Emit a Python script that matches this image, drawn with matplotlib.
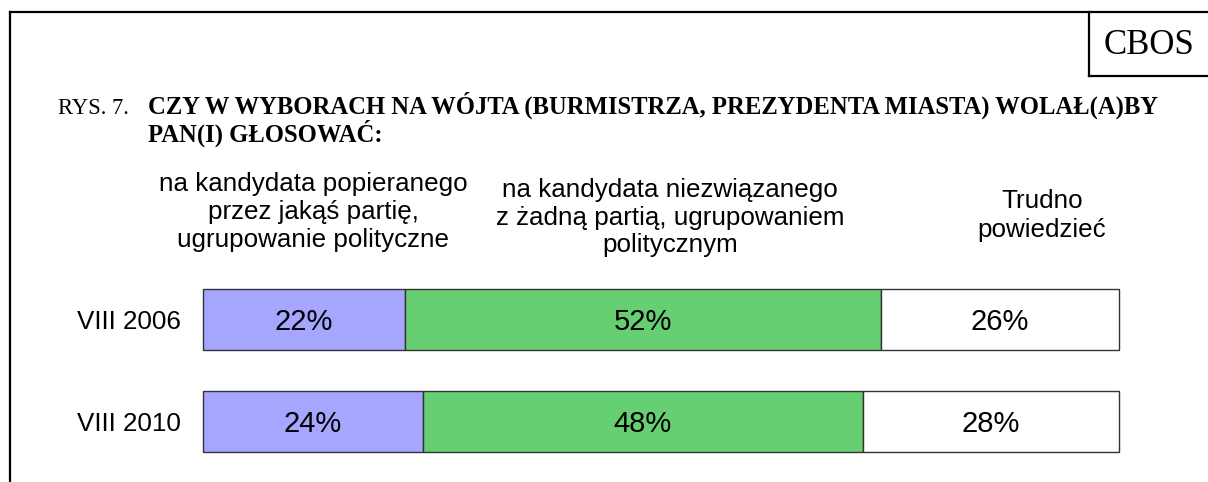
import matplotlib
matplotlib.use("Agg")
import matplotlib.pyplot as plt
from matplotlib.lines import Line2D
import numpy as np

# ---- data ----
periods = ["VIII 2006", "VIII 2010"]
cat_labels = [
    ["na kandydata popieranego", "przez jakąś partię,", "ugrupowanie polityczne"],
    ["na kandydata niezwiązanego", "z żadną partią, ugrupowaniem", "politycznym"],
    ["Trudno", "powiedzieć"],
]
val_party = [22, 24]
val_indep = [52, 48]
val_dk = [26, 28]
series = [val_party, val_indep, val_dk]
colors = ["#A6A6FF", "#66CF72", "#FFFFFF"]

title_prefix = "RYS. 7."
title_lines = ["CZY W WYBORACH NA WÓJTA (BURMISTRZA, PREZYDENTA MIASTA) WOLAŁ(A)BY",
               "PAN(I) GŁOSOWAĆ:"]
source = "CBOS"

W, H = 1208, 482
fig = plt.figure(figsize=(W / 100, H / 100), dpi=100)

def fx(x):
    return x / W

def fy(y):
    return 1 - y / H

# frame lines
lw = 1.6
fig.add_artist(Line2D([fx(10), fx(10)], [fy(12), fy(H + 5)], color="black", lw=lw))
fig.add_artist(Line2D([fx(10), fx(W + 5)], [fy(12), fy(12)], color="black", lw=lw))
fig.add_artist(Line2D([fx(1089), fx(1089)], [fy(12), fy(76)], color="black", lw=lw))
fig.add_artist(Line2D([fx(1089), fx(W + 5)], [fy(76), fy(76)], color="black", lw=lw))
fig.text(fx(1149), fy(54), source, ha="center", va="baseline",
         fontsize=25, family="Liberation Serif")

# title
serif = "Liberation Serif"
fig.text(fx(58), fy(114), title_prefix, ha="left", va="baseline", fontsize=16.3, family=serif)
title_baselines = [114, 142]
for line, yb in zip(title_lines, title_baselines):
    fig.text(fx(148), fy(yb), line, ha="left", va="baseline", fontsize=17.7,
             family=serif, fontweight="bold")

# category labels
sans = "Liberation Sans"
label_cx = [313, 670, 1042]
label_baselines = [[191, 219.5, 247.5], [197, 225, 252], [208.5, 237]]
for lines, cx, bls in zip(cat_labels, label_cx, label_baselines):
    for line, yb in zip(lines, bls):
        fig.text(fx(cx), fy(yb), line, ha="center", va="baseline", fontsize=18.7, family=sans)

# bars axes: pixel 203..1119 horizontally, 270..470 vertically
ax_top, ax_bot = 270, 470
ax = fig.add_axes([fx(203), fy(ax_bot), (1119 - 203) / W, (ax_bot - ax_top) / H])
c0, step = 319.5, 102
ax.set_xlim(0, 100)
ax.set_ylim((ax_bot - c0) / step, (ax_top - c0) / step)
ypos = np.arange(len(periods))
bar_h = 61 / step
left = np.zeros(len(periods))
for vals, col in zip(series, colors):
    vals = np.array(vals, dtype=float)
    bars = ax.barh(ypos, vals, left=left, height=bar_h, color=col,
                   edgecolor="#333333", linewidth=1.0)
    for b in bars:
        b.set_clip_on(False)
    for yi, (l, v) in enumerate(zip(left, vals)):
        ax.text(l + v / 2, yi + 0.105, f"{int(v)}%", ha="center", va="baseline",
                fontsize=21, family=sans)
    left = left + vals

ax.set_yticks(ypos)
ax.set_yticklabels(periods, fontsize=18.7, family=sans)
ax.tick_params(axis="y", length=0, pad=16)
ax.set_xticks([])
for s in ax.spines.values():
    s.set_visible(False)
ax.patch.set_alpha(0)

fig.savefig("out.png", dpi=100)
